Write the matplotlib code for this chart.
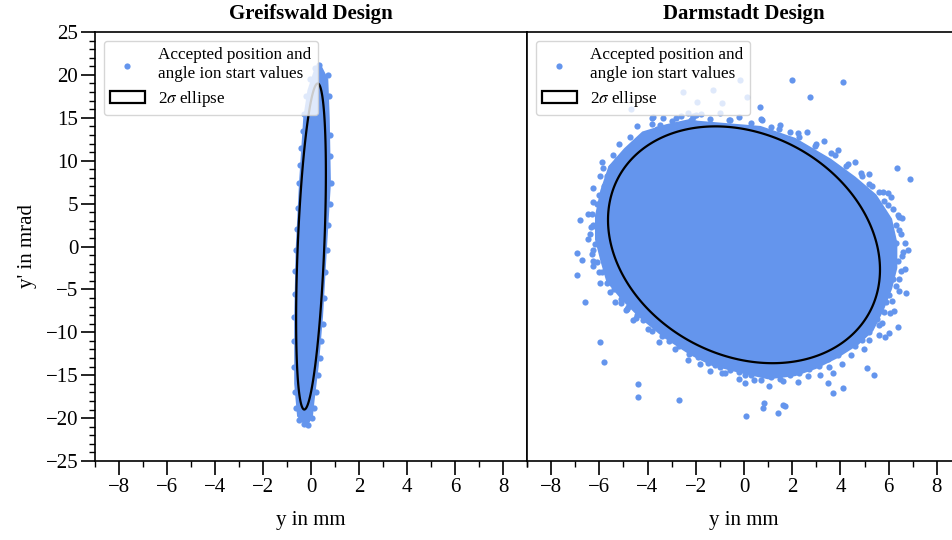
import numpy as np
import matplotlib.pyplot as plt
from matplotlib.patches import Polygon
from matplotlib.ticker import MultipleLocator

# dense core outlines of the accepted start values (y in mm, y' in mrad)
left_core_x = [0.45, 0.72, 0.78, 0.83, 0.66, 0.50, 0.32, 0.15, 0.08, -0.12,
               -0.30, -0.58, -0.70, -0.70, -0.64, -0.50, -0.32, -0.15, 0.15]
left_core_y = [21.0, 19.5, 15.0, 7.4, -0.4, -8.2, -14.0, -17.9, -19.8, -20.8,
               -20.7, -19.8, -16.0, -8.2, -0.4, 7.4, 15.1, 18.2, 20.8]

# single points at the rim of the Greifswald cloud
left_pts_x = [0.70, 0.75, 0.79, 0.81, 0.83, 0.78, 0.72, 0.66, 0.60, 0.55, 0.48, 0.42,
              0.36, 0.28, 0.20, 0.12, 0.04, -0.12,
              -0.30, -0.50, -0.62, -0.68, -0.70, -0.70, -0.70, -0.68, -0.66, -0.64, -0.60,
              -0.56, -0.50, -0.45, -0.40, -0.35, -0.30, -0.20, -0.05, 0.15, 0.35]
left_pts_y = [20.0, 17.5, 13.0, 10.5, 7.4, 5.0, 2.5, -0.4, -3.0, -6.0, -9.0, -11.0,
              -13.0, -15.0, -17.0, -18.8, -20.0, -20.8,
              -20.7, -20.2, -18.8, -17.0, -14.0, -11.0, -8.2, -5.5, -2.8, -0.4, 2.0,
              4.5, 7.4, 9.5, 11.5, 13.5, 15.5, 17.5, 19.5, 20.8, 21.1]

right_core_x = [-1.92, 0.69, 2.13, 3.61, 4.62, 5.49, 6.14, 6.36, 6.36, 6.14, 5.80, 5.36,
                4.75, 3.87, 3.00, 2.13, 1.00, -0.18, -1.35, -2.23, -3.36, -4.40, -5.09,
                -5.71, -5.96, -6.18, -6.18, -5.96, -5.62, -4.97, -4.22, -3.22, -2.23]
right_core_y = [14.66, 14.05, 12.66, 10.22, 8.14, 6.06, 3.24, 0.43, -2.51, -4.96, -7.40, -9.85,
                -11.45, -13.03, -14.26, -15.11, -15.48, -14.74, -13.89, -12.66, -10.58, -8.14, -6.18,
                -4.10, -1.65, 0.80, 3.61, 6.55, 9.37, 11.45, 13.40, 14.26, 14.87]

# rim and outlier points of the Darmstadt cloud
right_pts_x = [-3.5, -3.0, -2.6, -2.2, -1.8, -1.4, -1.0, -0.6, -0.2, 0.3, 0.7, 1.1, 1.5,
               1.9, 2.3, 2.6, 3.0, 3.3, 3.6, 3.9, 4.3, 4.6, 4.9, 5.2, 5.3, 5.6, 5.8, 6.1, 6.2, 6.4, 6.3,
               6.5, 6.3, 6.6, 6.4, 6.5, 6.2, 6.3, 6.0, 5.9, 5.8, 5.5, 5.6,
               5.2, 4.9, 4.6, 4.2, 3.9, 3.5, 3.1, 2.7, 2.3, 1.9, 1.5, 1.1, 0.7, 0.3,
               -0.2, -0.6, -1.0, -1.5, -1.9, -2.3, -2.7, -3.1, -3.4, -3.8, -4.2, -4.5,
               -4.8, -5.1, -5.4, -5.7, -5.9, -6.1, -6.3, -6.2, -6.4, -6.2, -6.3, -6.1, -6.0, -5.8,
               -5.7, -5.5, -5.1, -4.9, -4.5, -4.3, -3.9, -3.6,
               -0.63, 1.45, 2.95, 4.23, 5.20, 5.98, 6.43, 6.54, 6.43, 6.14, 5.73, 5.19, 4.43,
               3.54, 2.64, 1.61, 0.42, -0.79, -1.84, -2.87, -3.99, -4.88, -5.56, -6.00, -6.25,
               -6.36, -6.25, -5.96, -5.44, -4.73, -3.83, -2.80, -2.13,
               -2.01, 0.73, 2.23, 3.78, 4.84, 5.75, 6.44, 6.67, 6.67, 6.44, 6.07, 5.61, 4.97,
               4.06, 3.15, 2.23, 1.05, -0.19, -1.42, -2.33, -3.52, -4.61, -5.34, -5.98, -6.25,
               -6.48, -6.48, -6.25, -5.89, -5.20, -4.42, -3.38, -2.33,
               -6.80, -5.84, -3.83, -5.28, -6.25, -2.12, -4.69, -3.76, -2.52, -1.30, -1.96, -0.93,
               -0.17, 0.11, 1.98, 4.12, 2.74, 0.66, 6.34, 6.89, 6.54, 5.99,
               6.82, 6.72, 6.22, 6.40, 5.85, 6.03, 5.09, 5.39, 4.10, 3.68, 3.50, 3.68,
               1.63, 0.83, 0.80, 1.42, 1.70,
               -6.94, -6.73, -6.94, -6.60, -5.98, -5.80, -4.39, -4.41, -2.70, 0.07, 0.04, 0.04,
               -5.10, -4.45, -3.76, -4.87, -6.25, -0.93, -1.62, -1.20]
right_pts_y = [14.2, 14.6, 15.2, 14.8, 15.4, 14.9, 15.6, 14.7, 15.1, 14.4, 14.9, 13.9, 14.2,
               13.3, 12.8, 13.4, 11.9, 12.3, 10.9, 11.2, 9.6, 9.9, 8.2, 8.5, 7.1, 6.4, 5.3, 5.8, 4.4, 3.7, 2.5,
               1.4, 0.4, -0.6, -1.7, -2.9, -3.8, -4.6, -5.6, -6.5, -7.6, -8.4, -9.1,
               -10.0, -10.9, -11.6, -11.8, -12.7, -13.1, -13.9, -14.3, -14.8, -15.0, -15.4, -15.2, -15.6, -15.0,
               -14.6, -14.4, -14.0, -13.6, -12.9, -12.5, -11.6, -11.0, -10.4, -9.8, -8.6, -8.3,
               -7.0, -6.1, -5.0, -4.2, -3.0, -1.8, -0.9, 0.3, 1.4, 2.4, 3.8, 4.9, 6.0, 7.1,
               8.2, 9.3, 10.1, 11.0, 11.6, 12.4, 13.1, 13.7,
               14.76, 13.74, 11.77, 9.44, 7.30, 4.78, 1.89, -1.07, -3.84, -6.36, -8.87, -10.95, -12.59,
               -14.03, -15.10, -15.73, -15.54, -14.73, -13.66, -11.96, -9.63, -7.37, -5.29, -2.95, -0.44,
               2.27, 5.23, 8.19, 10.70, 12.78, 14.22, 14.98, 15.18,
               15.36, 14.72, 13.27, 10.70, 8.53, 6.35, 3.40, 0.45, -2.63, -5.19, -7.76, -10.32, -11.99,
               -13.65, -14.94, -15.83, -16.21, -15.44, -14.55, -13.27, -11.09, -8.53, -6.48, -4.29, -1.73,
               0.84, 3.78, 6.86, 9.81, 11.99, 14.04, 14.94, 15.58,
               3.09, 9.11, 15.0, 10.08, 2.5, 15.1, 16.0, 15.06, 18.04, 18.24, 16.88, 16.69,
               19.4, 17.46, 19.40, 19.17, 17.46, 16.29, 9.18, 7.87, 3.36, 6.2,
               -0.41, -5.45, -7.52, -9.35, -10.58, -10.1, -14.13, -14.98, -16.45, -17.11, -15.87, -14.71,
               -18.47, -18.27, -18.79, -19.44, -18.55,
               -0.79, -1.57, -3.32, -6.50, -11.09, -13.50, -16.03, -17.5, -17.89, -19.72, -15.87, -14.98,
               -6.62, -7.98, -9.07, -7.32, -2.27, -14.71, -13.03, -13.81]

# 2 sigma ellipses: centre, 2*sigma_y, 2*sigma_y', correlation
left_ell = dict(cx=0.0, cy=0.0, a=0.62, b=19.0, rho=0.45)
right_ell = dict(cx=0.0, cy=0.2, a=5.64, b=13.8, rho=-0.21)

titles = ['Greifswald Design', 'Darmstadt Design']
point_label = 'Accepted position and\nangle ion start values'
ell_label = r'2$\sigma$ ellipse'

blue = '#6495ED'

plt.rcParams['font.family'] = ['Liberation Serif', 'DejaVu Serif']
plt.rcParams['mathtext.fontset'] = 'stix'


def ellipse_xy(cx, cy, a, b, rho):
    t = np.linspace(0, 2 * np.pi, 300)
    x = cx + a * np.cos(t)
    y = cy + b * (rho * np.cos(t) + np.sqrt(1 - rho ** 2) * np.sin(t))
    return np.column_stack([x, y])


fig = plt.figure(figsize=(9.52, 5.4), dpi=100)
ax1 = fig.add_axes([95 / 952, 79 / 540, 432 / 952, 429 / 540])
ax2 = fig.add_axes([527 / 952, 79 / 540, 434 / 952, 429 / 540])

panels = [
    (ax1, left_core_x, left_core_y, left_pts_x, left_pts_y, left_ell),
    (ax2, right_core_x, right_core_y, right_pts_x, right_pts_y, right_ell),
]

for i, (ax, cx, cy, px, py, ell) in enumerate(panels):
    ax.fill(cx, cy, color=blue, lw=0, zorder=2)
    ax.scatter(px, py, s=20, color=blue, linewidths=0, zorder=2, label=point_label)
    ax.add_patch(Polygon(ellipse_xy(**ell), closed=True, fill=False, edgecolor='black',
                         lw=1.6, zorder=3, label=ell_label))

    ax.set_xlim(-9, 9)
    ax.set_ylim(-25, 25)
    ax.xaxis.set_major_locator(MultipleLocator(2))
    ax.xaxis.set_minor_locator(MultipleLocator(1))
    ax.yaxis.set_major_locator(MultipleLocator(5))
    ax.yaxis.set_minor_locator(MultipleLocator(1))
    ax.tick_params(which='major', direction='out', length=10, width=1.2, labelsize=15, pad=2)
    ax.tick_params(which='minor', direction='out', length=4, width=1.0)
    for sp in ax.spines.values():
        sp.set_linewidth(1.2)

    ax.set_title(titles[i], fontsize=15, fontweight='bold', pad=9)
    ax.set_xlabel('y in mm', fontsize=15, labelpad=10)
    ax.legend(loc='upper left', fontsize=12.3, scatterpoints=1, labelspacing=0.4)

ax1.set_ylabel("y' in mrad", fontsize=15, labelpad=6)
ax2.tick_params(axis='y', which='both', left=False, labelleft=False)

fig.savefig('out.png', dpi=100)
